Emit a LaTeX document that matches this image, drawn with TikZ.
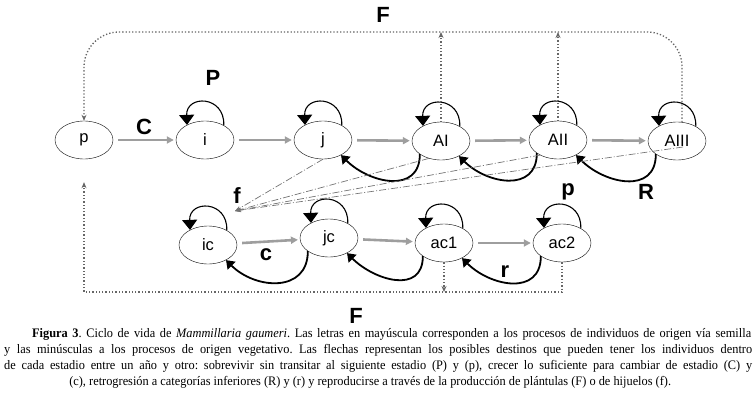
\documentclass[tikz,border=0pt]{standalone}
\usepackage{fontspec}
\setmainfont{Liberation Serif}
\newfontfamily\arial{Liberation Sans}
\newfontfamily\capfont[FakeStretch=0.95]{Liberation Serif}
\usetikzlibrary{shapes.geometric,arrows.meta,calc}

\begin{document}
\frenchspacing
\begin{tikzpicture}[x=1pt, y=1pt,
    stage/.style={draw, ellipse, minimum width=58pt, minimum height=38pt, inner sep=0pt, font=\arial\fontsize{16.5}{16.5}\selectfont},
    growth/.style={draw=black!38, line width=2.6pt, -{Triangle[length=7pt,width=7pt]}, shorten <=5pt, shorten >=2pt},
    selfloop/.style={line width=1.1pt, -{Triangle[length=10pt,width=15pt]}},
    retro/.style={line width=1.8pt, -{Triangle[length=8pt,width=11pt]}},
    seed/.style={draw=black!60, line width=1.3pt, dotted},
    hijuelo/.style={draw=black!55, line width=0.7pt, dash pattern=on 7pt off 2pt on 1pt off 2pt, -{Stealth[length=6pt,width=4pt]}},
    lbl/.style={font=\arial\bfseries\fontsize{22}{22}\selectfont}
]
\useasboundingbox (0,0) rectangle (756,400);

% Estadios de origen por semilla
\node [stage] (p) at (84,260) {p};
\node [stage] (i) at (205,260) {i};
\node [stage] (j) at (323,260) {j};
\node [stage] (AI) at (441,259) {AI};
\node [stage] (AII) at (558,260) {AII};
\node [stage] (AIII) at (677,259) {AIII};

% Estadios de origen vegetativo
\node [stage] (ic) at (208,155) {ic};
\node [stage] (jc) at (329,162) {jc};
\node [stage] (ac1) at (444,157) {ac1};
\node [stage] (ac2) at (562,157) {ac2};

\coordinate (topF) at (383,368);
\coordinate (botF) at (356,108);
\coordinate (fpt) at (235,189);

% Crecimiento
\draw [growth] (p) -- (i);
\draw [growth] (i) -- (j);
\draw [growth] (j) -- (AI);
\draw [growth] (AI) -- (AII);
\draw [growth] (AII) -- (AIII);
\draw [growth] (ic) -- (jc);
\draw [growth] (jc) -- (ac1);
\draw [growth] (ac1) -- (ac2);

% Permanencia
\draw [selfloop] (i.38) to[out=88,in=92,looseness=2.1] (i.140);
\draw [selfloop] (j.38) to[out=88,in=92,looseness=2.1] (j.140);
\draw [selfloop] (AI.38) to[out=88,in=92,looseness=2.1] (AI.140);
\draw [selfloop] (AII.38) to[out=88,in=92,looseness=2.1] (AII.140);
\draw [selfloop] (AIII.38) to[out=88,in=92,looseness=2.1] (AIII.140);
\draw [selfloop] (ic.38) to[out=88,in=92,looseness=2.1] (ic.140);
\draw [selfloop] (jc.38) to[out=88,in=92,looseness=2.1] (jc.140);
\draw [selfloop] (ac1.38) to[out=88,in=92,looseness=2.1] (ac1.140);
\draw [selfloop] (ac2.38) to[out=88,in=92,looseness=2.1] (ac2.140);

% Retrogresion
\draw [retro] (AI.212) to[out=-90,in=-45,looseness=1.3] (j.-40);
\draw [retro] (AII.212) to[out=-90,in=-45,looseness=1.3] (AI.-40);
\draw [retro] (AIII.212) to[out=-90,in=-45,looseness=1.3] (AII.-40);
\draw [retro] (jc.212) to[out=-90,in=-45,looseness=1.3] (ic.-40);
\draw [retro] (ac1.212) to[out=-90,in=-45,looseness=1.3] (jc.-40);
\draw [retro] (ac2.212) to[out=-90,in=-45,looseness=1.3] (ac1.-40);

% Plantulas (F)
\draw [seed, rounded corners=35pt, -{Stealth[length=6pt,width=5pt]}] (AIII.75) |- (topF) -| (p.north);
\draw [seed, -{Stealth[length=6pt,width=5pt]}] (AI.north) -- (AI.north |- topF);
\draw [seed, -{Stealth[length=6pt,width=5pt]}] (AII.north) -- (AII.north |- topF);
\draw [seed, shorten >=23pt, -{Stealth[length=6pt,width=5pt]}] (ac2.south) |- (botF) -| (p.south);
\draw [seed, -{Stealth[length=6pt,width=5pt]}] (ac1.south) -- (ac1.south |- botF);

% Hijuelos (f)
\draw [hijuelo] (j.south) -- (fpt);
\draw [hijuelo] (AI.235) -- (fpt);
\draw [hijuelo] (AII.220) -- (fpt);
\draw [hijuelo] ($(AIII)+(6,-6)$) -- (fpt);

% Etiquetas
\node [lbl] (lC) at (144,273) {C};
\node [lbl] (lP) at (213,322) {P};
\node [lbl] (lFtop) at (383,385) {F};
\node [lbl] (lf) at (237,204) {f};
\node [lbl] (lc) at (266,145) {c};
\node [lbl] (lp) at (568,208) {p};
\node [lbl] (lR) at (646,208) {R};
\node [lbl] (lr) at (505,128) {r};
\node [lbl] (lFbot) at (356,84) {F};

% Pie de figura
\node [anchor=north west, inner sep=0pt, align=left, font=\capfont\fontsize{13}{16.2}\selectfont] (cap) at (4,72) {%
\hspace*{28pt}\makebox[719pt][s]{\textbf{Figura 3}. Ciclo de vida de \textit{Mammillaria gaumeri}. Las letras en mayúscula corresponden a los procesos de individuos de origen vía semilla}\\
\makebox[748pt][s]{y las minúsculas a los procesos de origen vegetativo. Las flechas representan los posibles destinos que pueden tener los individuos dentro}\\
\makebox[748pt][s]{de cada estadio entre un año y otro: sobrevivir sin transitar al siguiente estadio (P) y (p), crecer lo suficiente para cambiar de estadio (C) y}\\
\makebox[732pt]{(c), retrogresión a categorías inferiores (R) y (r) y reproducirse a través de la producción de plántulas (F) o de hijuelos (f).}};

\end{tikzpicture}
\end{document}
